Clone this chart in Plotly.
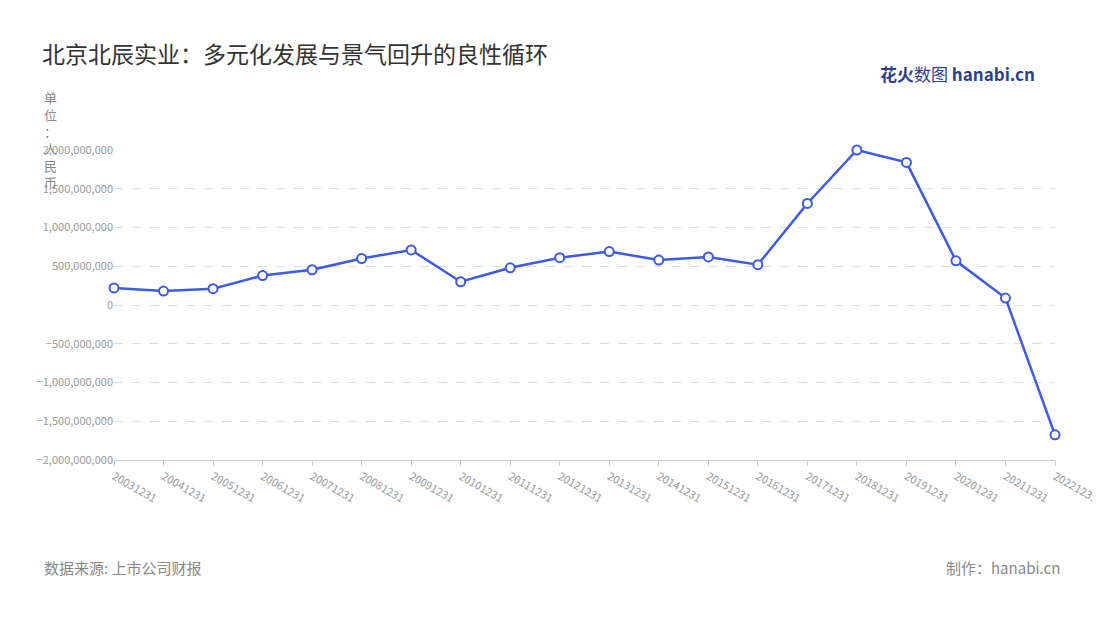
import plotly.graph_objects as go

dates = ["20031231","20041231","20051231","20061231","20071231","20081231","20091231",
         "20101231","20111231","20121231","20131231","20141231","20151231","20161231",
         "20171231","20181231","20191231","20201231","20211231","20221231"]
profit = [220e6,180e6,210e6,380e6,455e6,600e6,710e6,300e6,480e6,610e6,690e6,580e6,
          620e6,520e6,1310e6,2000e6,1840e6,570e6,90e6,-1675e6]
yticks = [-2e9,-1.5e9,-1e9,-0.5e9,0,0.5e9,1e9,1.5e9,2e9]

OFF = 8  # page body margin
fig = go.Figure(go.Scatter(
    x=dates, y=profit, mode="lines+markers",
    line=dict(color="#3d5ae8", width=2.5),
    marker=dict(size=9, color="white", line=dict(color="#3d5ae8", width=2)),
    cliponaxis=False, showlegend=False))

fig.update_layout(
    width=1092, height=612, plot_bgcolor="white", paper_bgcolor="white",
    margin=dict(l=114-OFF, r=45, t=150-OFF, b=160, autoexpand=False),
    font=dict(family="Noto Sans CJK SC", color="#999"),
    title=dict(text="北京北辰实业：多元化发展与景气回升的良性循环",
               x=(42-OFF)/1092, y=1-(55-OFF)/612, xref="container", yref="container",
               xanchor="left", yanchor="middle",
               font=dict(size=23, color="#333")),
    xaxis=dict(type="category", range=[0, 19], tickangle=30, showgrid=False,
               showline=True, linecolor="#ccc", ticks="outside", tickcolor="#ccc",
               tickfont=dict(size=11, color="#999")),
    yaxis=dict(range=[-2e9, 2e9], tickvals=yticks, tickformat=",d",
               gridcolor="#ddd", griddash="dash", zeroline=False,
               tickfont=dict(size=11, color="#999")),
)
W, H = 941, 310
def px(x, y):
    return (x-114)/W, (460-y)/H
ann = [
    ("单<br>位<br>：<br>人<br>民<br>币", 50, 86, "center", "top", 13, "#888"),
    ("数据来源: 上市公司财报", 42, 567, "left", "middle", 15, "#888"),
    ("制作：hanabi.cn", 1062, 567, "right", "middle", 15, "#888"),
    ("<b>花火</b>数图 <b>hanabi.cn</b>", 1037, 73, "right", "middle", 17, "#2a3f8f"),
]
for t, x, y, xa, ya, s, c in ann:
    ax, ay = px(x, y)
    fig.add_annotation(text=t, x=ax, y=ay, xref="paper", yref="paper", xanchor=xa,
                       yanchor=ya, showarrow=False, font=dict(size=s, color=c))
fig.write_html("out.html")
